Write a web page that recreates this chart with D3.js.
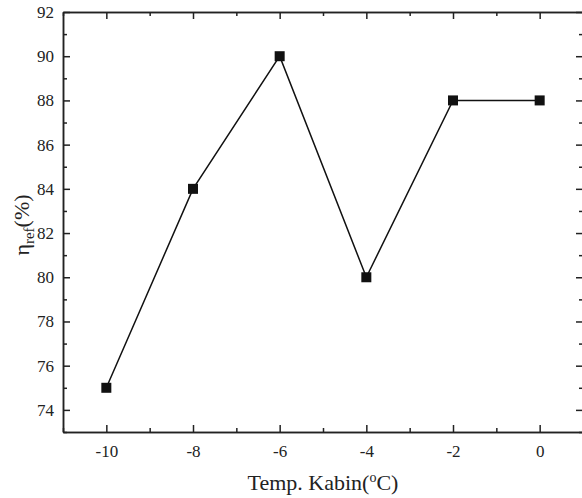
<!DOCTYPE html>
<html>
<head>
<meta charset="utf-8">
<script src="https://cdn.jsdelivr.net/npm/d3@7"></script>
<style>
  body { margin: 0; background: #fff; }
  text { font-family: "Liberation Serif", "Times New Roman", serif; fill: #222; }
</style>
</head>
<body>
<svg id="chart" width="582" height="498"></svg>
<script>
// data
var temps = [-10, -8, -6, -4, -2, 0];
var eff = [75, 84, 90, 80, 88, 88];
var xTicks = [-10, -8, -6, -4, -2, 0];
var yTicks = [74, 76, 78, 80, 82, 84, 86, 88, 90, 92];

var svg = d3.select("#chart");
var padL = 63, padR = 583, padT = 12, padB = 432;

var x = d3.scaleLinear().domain([-11, 1]).range([padL, padR]);
var y = d3.scaleLinear().domain([73, 92]).range([padB, padT]);

var xMinor = d3.range(-11, 1.01, 1).filter(function(d){ return xTicks.indexOf(d) < 0; });
var yMinor = d3.range(73, 92, 1).filter(function(d){ return yTicks.indexOf(d) < 0; });

function axis(gen, tr, ticks, len, labels) {
  var g = svg.append("g").attr("transform", tr)
    .call(gen.tickValues(ticks).tickSizeInner(len).tickSizeOuter(0).tickPadding(8)
      .tickFormat(labels ? function(d){ return String(d); } : ""));
  g.select(".domain").attr("stroke", "#222").attr("stroke-width", 1.5);
  g.selectAll(".tick line").attr("stroke", "#222").attr("stroke-width", 1.5);
  g.selectAll(".tick text").style("font-size", "17px").attr("fill", "#222");
  return g;
}

// bottom + top (ticks point inward)
axis(d3.axisBottom(x), "translate(0," + padB + ")", xTicks, -7, true)
  .selectAll(".tick text").attr("y", 13);
axis(d3.axisBottom(x), "translate(0," + padB + ")", xMinor, -4, false);
axis(d3.axisTop(x), "translate(0," + padT + ")", xTicks, -7, false);
axis(d3.axisTop(x), "translate(0," + padT + ")", xMinor, -4, false);

// left + right
axis(d3.axisLeft(y), "translate(" + padL + ",0)", yTicks, -7, true)
  .selectAll(".tick text").attr("x", -9);
axis(d3.axisLeft(y), "translate(" + padL + ",0)", yMinor, -4, false);
axis(d3.axisRight(y), "translate(" + padR + ",0)", yTicks, -7, false);
axis(d3.axisRight(y), "translate(" + padR + ",0)", yMinor, -4, false);

// line + square markers
var line = d3.line()
  .x(function(d, i){ return x(temps[i]); })
  .y(function(d){ return y(d); });

svg.append("path")
  .datum(eff)
  .attr("d", line)
  .attr("fill", "none")
  .attr("stroke", "#111")
  .attr("stroke-width", 1.5);

svg.selectAll("rect.pt")
  .data(eff)
  .enter().append("rect")
  .attr("class", "pt")
  .attr("x", function(d, i){ return x(temps[i]) - 5; })
  .attr("y", function(d){ return y(d) - 5; })
  .attr("width", 10)
  .attr("height", 10)
  .attr("fill", "#111");

// axis titles
var xt = svg.append("text")
  .attr("x", (padL + padR) / 2)
  .attr("y", 490)
  .attr("text-anchor", "middle")
  .style("font-size", "22px");
xt.append("tspan").text("Temp. Kabin(");
xt.append("tspan").text("o").attr("dy", -8).style("font-size", "14px");
xt.append("tspan").text("C)").attr("dy", 8);

var yt = svg.append("text")
  .attr("transform", "translate(29,225) rotate(-90)")
  .attr("text-anchor", "middle")
  .style("font-size", "22px");
yt.append("tspan").text("\u03b7");
yt.append("tspan").text("ref").attr("dy", 5).style("font-size", "15px");
yt.append("tspan").text("(%)").attr("dy", -5);
</script>
</body>
</html>
